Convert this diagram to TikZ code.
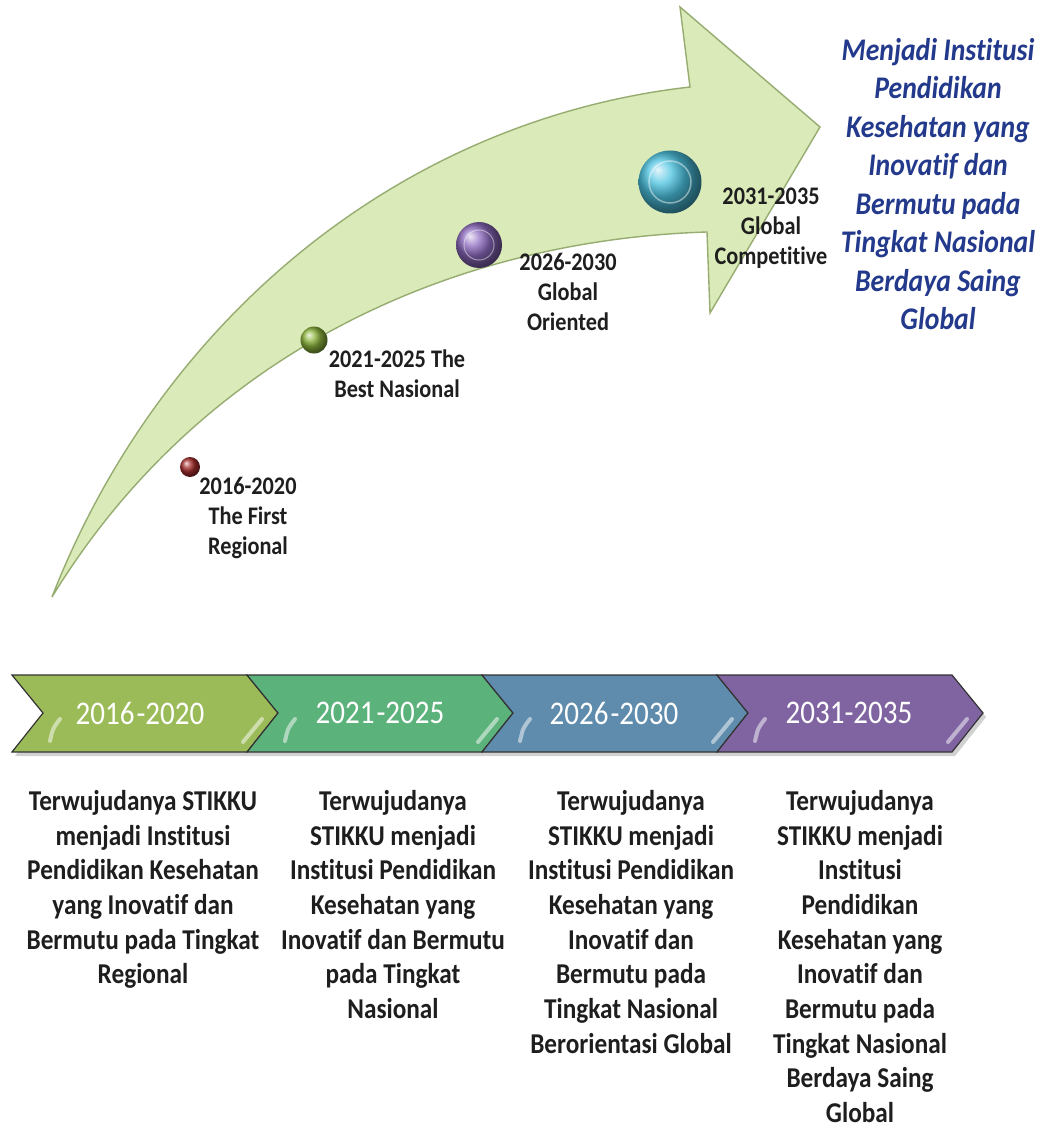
\documentclass[tikz,border=0pt]{standalone}
\usepackage{fontspec}
\setmainfont{Carlito}[FakeStretch=0.88, Ligatures=NoCommon]
\definecolor{arrowfill}{RGB}{218,234,184}
\definecolor{arrowline}{RGB}{150,172,112}
\definecolor{chA}{RGB}{155,187,89}
\definecolor{chB}{RGB}{92,178,123}
\definecolor{chC}{RGB}{95,140,173}
\definecolor{chD}{RGB}{128,100,162}
\definecolor{visionblue}{RGB}{35,58,140}
\definecolor{labelink}{RGB}{30,30,30}
\tikzset{
  bigarrow/.style={fill=arrowfill, draw=arrowline, line width=1.4pt, line join=miter},
  chevbox/.style={draw=black!80, line width=1.2pt, line join=miter},
  chevshadow/.style={fill=black!18},
  glint/.style={draw=white, opacity=0.5, line width=4pt, line cap=round},
  yeartext/.style={text=white, font=\fontsize{33}{36}\selectfont, inner sep=0pt},
  steplabel/.style={text=labelink, font=\fontsize{25.3}{30}\selectfont\bfseries, align=center, inner sep=0pt},
  coltext/.style={text=labelink, font=\fontsize{28.7}{34.7}\selectfont\bfseries, align=center, inner sep=0pt, anchor=north},
  visiontext/.style={text=visionblue, font=\fontsize{31.5}{38.5}\selectfont\bfseries\itshape, align=center, inner sep=0pt},
  ballnode/.style={circle, inner sep=0pt, shading=ball, draw=none},
}
\begin{document}
\begin{tikzpicture}[x=1pt,y=-1pt]
\useasboundingbox (0,0) rectangle (1047,1131);
\fill[white] (0,0) rectangle (1047,1131);

% big curved arrow
\draw[bigarrow] (52,597) .. controls (160,320) and (400,120) .. (690,87)
  -- (680,7) -- (820,127) -- (710,313) -- (707,232)
  .. controls (450,240) and (200,355) .. (52,597) -- cycle;

% milestone balls
\node[ballnode, ball color={rgb,255:red,165;green,45;blue,45}, minimum size=20pt] (b1) at (190,467) {};
\node[ballnode, ball color={rgb,255:red,140;green,180;blue,60}, minimum size=27pt] (b2) at (314,340) {};
\node[ballnode, ball color={rgb,255:red,140;green,105;blue,190}, minimum size=46pt] (b3) at (479,245) {};
\node[ballnode, ball color={rgb,255:red,75;green,195;blue,225}, minimum size=63pt] (b4) at (670,182) {};
\draw[white, opacity=0.45, line width=1pt] (b3.center) circle[radius=15];
\draw[white, opacity=0.45, line width=1.5pt] (b4.center) circle[radius=21];

% milestone labels
\node[steplabel] (l1) at (248,518) {2016-2020\\The First\\Regional};
\node[steplabel] (l2) at (397,374) {2021-2025 The\\Best Nasional};
\node[steplabel] (l3) at (568,292) {2026-2030\\Global\\Oriented};
\node[steplabel] (l4) at (771,228) {2031-2035\\Global\\Competitive};

% vision text
\node[visiontext] (v) at (938,184) {Menjadi Institusi\\Pendidikan\\Kesehatan yang\\Inovatif dan\\Bermutu pada\\Tingkat Nasional\\Berdaya Saing\\Global};

% chevrons
\foreach \x/\c in {12/chA,247/chB,482/chC,717/chD}{
  \fill[chevshadow] (\x+3,679) -- (\x+238,679) -- (\x+269,717) -- (\x+238,756) -- (\x+3,756) -- (\x+34,717) -- cycle;
}
\foreach \x/\c in {12/chA,247/chB,482/chC,717/chD}{
  \draw[chevbox, fill=\c] (\x,675) -- (\x+235,675) -- (\x+266,713) -- (\x+235,752) -- (\x,752) -- (\x+31,713) -- cycle;
  \draw[glint] (\x+48,719) .. controls (\x+41,728) .. (\x+38,741);
  \draw[glint] (\x+250,719) .. controls (\x+241,731) .. (\x+231,742);
}
\node[yeartext] (y1) at (140,713) {2016\kern2pt-2020};
\node[yeartext] (y2) at (380,713) {2021\kern2pt-2025};
\node[yeartext] (y3) at (614,713) {2026\kern2pt-2030};
\node[yeartext] (y4) at (849,713) {2031-2035};

% description columns
\node[coltext] (c1) at (143,790) {Terwujudanya STIKKU\\menjadi Institusi\\Pendidikan Kesehatan\\yang Inovatif dan\\Bermutu pada Tingkat\\Regional};
\node[coltext] (c2) at (393,790) {Terwujudanya\\STIKKU menjadi\\Institusi Pendidikan\\Kesehatan yang\\Inovatif dan Bermutu\\pada Tingkat\\Nasional};
\node[coltext] (c3) at (631,790) {Terwujudanya\\STIKKU menjadi\\Institusi Pendidikan\\Kesehatan yang\\Inovatif dan\\Bermutu pada\\Tingkat Nasional\\Berorientasi Global};
\node[coltext] (c4) at (860,790) {Terwujudanya\\STIKKU menjadi\\Institusi\\Pendidikan\\Kesehatan yang\\Inovatif dan\\Bermutu pada\\Tingkat Nasional\\Berdaya Saing\\Global};
\end{tikzpicture}
\end{document}
